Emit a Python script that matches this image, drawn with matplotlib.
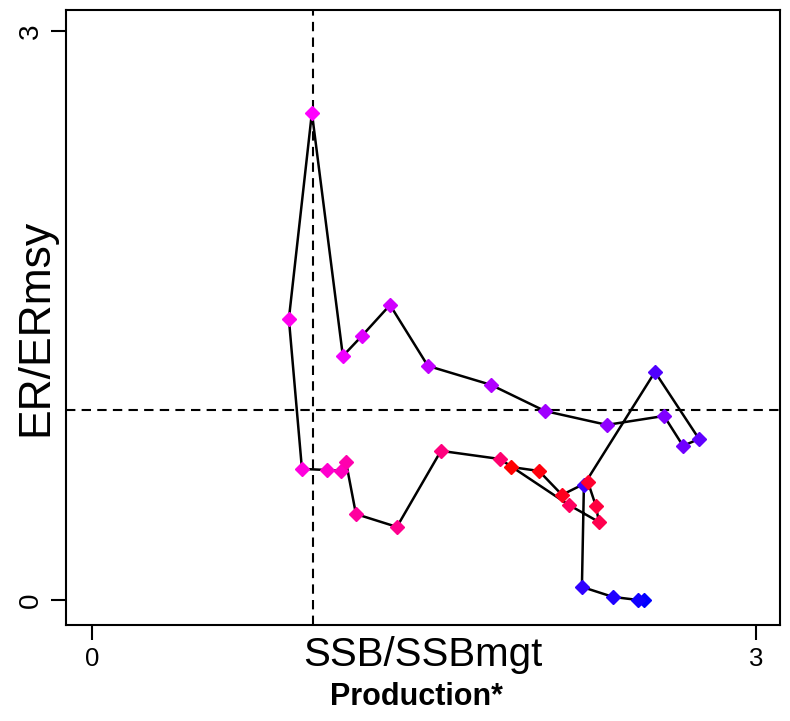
import matplotlib
matplotlib.use("Agg")
import matplotlib.pyplot as plt
import numpy as np
from matplotlib.colors import LinearSegmentedColormap

plt.rcParams['font.family'] = ['Liberation Sans', 'DejaVu Sans']

# Time series (earliest -> latest)
ssb_ratio = [2.494, 2.467, 2.354, 2.214, 2.223, 2.544, 2.743, 2.671, 2.585, 2.327,
             2.047, 1.803, 1.518, 1.347, 1.220, 1.134, 0.994, 0.890, 0.949, 1.062,
             1.125, 1.148, 1.193, 1.378, 1.577, 1.844, 2.155, 2.291, 2.277, 2.241,
             2.124, 2.020, 1.893]
er_ratio = [0.000, 0.000, 0.016, 0.069, 0.606, 1.202, 0.849, 0.812, 0.970, 0.923,
            0.996, 1.134, 1.234, 1.555, 1.392, 1.286, 2.568, 1.482, 0.691, 0.685,
            0.680, 0.728, 0.453, 0.385, 0.786, 0.743, 0.501, 0.411, 0.496, 0.622,
            0.554, 0.680, 0.701]
x_ticks = [0, 3]
y_ticks = [0, 3]
ref_x = 1
ref_y = 1

fig = plt.figure(figsize=(7.9, 7.21), dpi=100)
ax = fig.add_axes([66/790, 1-625/721, (780-66)/790, (625-10)/721])

cmap = LinearSegmentedColormap.from_list("bmr", ["#0000FF", "#FF00FF", "#FF0000"])
n = len(ssb_ratio)
cols = [cmap(i/(n-1)) for i in range(n)]

ax.axvline(ref_x, color='black', ls=(0, (4.5, 3)), lw=1.5, zorder=1)
ax.axhline(ref_y, color='black', ls=(0, (4.5, 3)), lw=1.5, zorder=1)
ax.plot(ssb_ratio, er_ratio, color='black', lw=1.8, zorder=2)
for xv, yv, c in zip(ssb_ratio, er_ratio, cols):
    ax.plot([xv], [yv], marker='D', ms=7.2, color=c, mec=c, ls='none', zorder=3)

ax.set_xlim(-0.117, 3.109)
ax.set_ylim(-0.132, 3.11)
ax.set_xticks(x_ticks)
ax.set_yticks(y_ticks)
ax.set_xticklabels([str(t) for t in x_ticks], fontsize=18.5)
ax.set_yticklabels([str(t) for t in y_ticks], fontsize=20, rotation=90, va='center')
ax.tick_params(direction='out', length=11, width=1.5, pad=5)
for s in ax.spines.values():
    s.set_linewidth(1.5)

fig.text(423/790, 1-655/721, "SSB/SSBmgt", fontsize=29, ha='center', va='center')
fig.text(416/790, 1-697/721, "Production*", fontsize=22, fontweight='bold', ha='center', va='center')
fig.text(36/790, 1-327/721, "ER/ERmsy", fontsize=32, rotation=90, ha='center', va='center')

fig.savefig("out.png", dpi=100)
